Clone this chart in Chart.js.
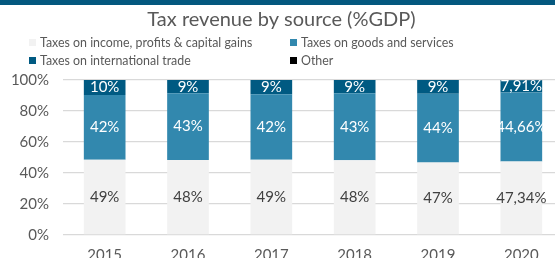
<!DOCTYPE html>
<html>
<head>
<meta charset="utf-8">
<script src="https://cdn.jsdelivr.net/npm/chart.js@4/dist/chart.umd.min.js"></script>
<style>
  html, body { margin: 0; padding: 0; width: 555px; height: 258px; overflow: hidden; background: #fff; }
  #wrap { position: absolute; left: 0; top: 0; width: 563px; height: 267px; }
  #topbar { position: absolute; left: 0; top: 0; width: 555px; height: 5px; background: #04587f; z-index: 2; }
  #legend { position: absolute; left: 29px; top: 34px; font-family: Lato, sans-serif; font-size: 12.4px; color: #595959; z-index: 2;
            display: grid; grid-template-columns: 261px 200px; row-gap: 2px; }
  #legend div { display: flex; align-items: center; height: 16px; white-space: nowrap; }
  #legend span.box { display: inline-block; width: 7px; height: 7px; margin-right: 4px; }
</style>
</head>
<body>
<div id="topbar"></div>
<div id="legend"></div>
<div id="wrap"><canvas id="taxChart"></canvas></div>
<script>
const years = ["2015", "2016", "2017", "2018", "2019", "2020"];
const incomeTax = [48.6, 48.4, 48.6, 48.2, 46.7, 47.34];
const goodsTax = [41.7, 43.0, 42.2, 43.2, 44.4, 44.66];
const tradeTax = [9.7, 8.6, 9.2, 8.6, 8.9, 7.91];
const otherTax = [0, 0, 0, 0, 0, 0.09];
const labelDecimals = [0, 0, 0, 0, 0, 2];
const yTicks = [0, 20, 40, 60, 80, 100];

const ctx = document.getElementById('taxChart').getContext('2d');

const fontFamily = 'Lato, sans-serif';

// draws value labels in the middle of each bar segment
const barLabels = {
    id: 'barLabels',
    afterDatasetsDraw(chart) {
        const c = chart.ctx;
        c.save();
        c.font = '15px ' + fontFamily;
        c.textAlign = 'center';
        c.textBaseline = 'middle';
        chart.data.datasets.forEach((ds, i) => {
            if (!ds.showLabels) return;
            const meta = chart.getDatasetMeta(i);
            meta.data.forEach((bar, j) => {
                const v = ds.data[j];
                const txt = v.toFixed(labelDecimals[j]).replace('.', ',') + '%';
                c.fillStyle = ds.labelColor;
                c.fillText(txt, bar.x, (bar.y + bar.base) / 2);
            });
        });
        c.restore();
    }
};

const data = {
    labels: years,
    datasets: [
        { label: 'Taxes on income, profits & capital gains', data: incomeTax, backgroundColor: '#f2f2f2', showLabels: true, labelColor: '#404040' },
        { label: 'Taxes on goods and services', data: goodsTax, backgroundColor: '#3288ae', showLabels: true, labelColor: '#ffffff' },
        { label: 'Taxes on international trade', data: tradeTax, backgroundColor: '#005a82', showLabels: true, labelColor: '#ffffff' },
        { label: 'Other', data: otherTax, backgroundColor: '#000000', showLabels: false }
    ]
};

const config = {
    type: 'bar',
    data: data,
    options: {
        responsive: false,
        animation: false,
        datasets: { bar: { categoryPercentage: 1, barPercentage: 0.5 } },
        layout: { padding: { left: 0, right: 0, bottom: 0 } },
        scales: {
            x: {
                stacked: true,
                grid: { display: false },
                border: { display: false },
                ticks: { color: '#595959', font: { family: fontFamily, size: 15 }, padding: 3 }
            },
            y: {
                stacked: true,
                min: 0,
                max: 100,
                afterBuildTicks(scale) { scale.ticks = yTicks.map(v => ({ value: v })); },
                afterFit(scale) { scale.width = 63; },
                grid: { color: '#d9d9d9', drawTicks: false, lineWidth: 1.3 },
                border: { display: false },
                ticks: { color: '#595959', font: { family: fontFamily, size: 15 }, padding: 14, callback: v => v + '%' }
            }
        },
        plugins: {
            legend: { display: false },
            tooltip: { enabled: false },
            title: {
                display: true,
                text: 'Tax revenue by source (%GDP)',
                color: '#595959',
                font: { family: fontFamily, size: 20, weight: 'normal' },
                padding: { top: 8, bottom: 48 }
            }
        }
    },
    plugins: [barLabels]
};

const canvas = document.getElementById('taxChart');
canvas.width = 563;
canvas.height = 267;
const taxChart = new Chart(ctx, config);

// html legend in two columns
const legendEl = document.getElementById('legend');
data.datasets.forEach(ds => {
    const item = document.createElement('div');
    const box = document.createElement('span');
    box.className = 'box';
    box.style.background = ds.backgroundColor;
    item.appendChild(box);
    item.appendChild(document.createTextNode(ds.label));
    legendEl.appendChild(item);
});
</script>
</body>
</html>
